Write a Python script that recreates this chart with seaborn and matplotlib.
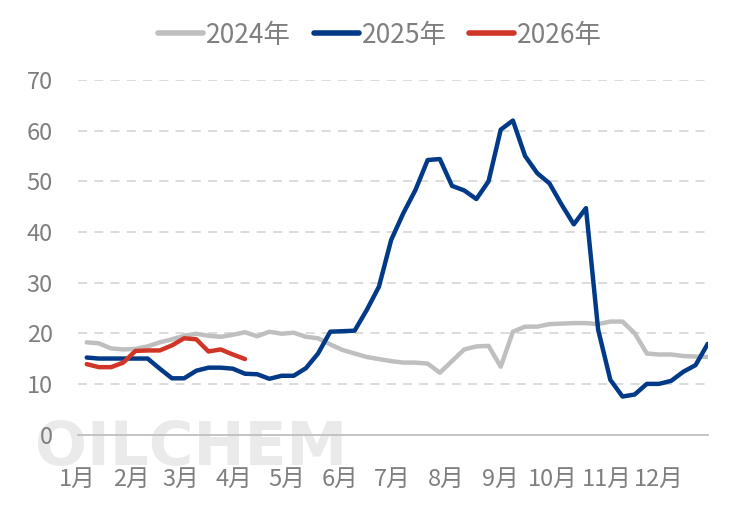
import numpy as np
import pandas as pd
import matplotlib
matplotlib.use("Agg")
import matplotlib.pyplot as plt
import seaborn as sns

# ---- data (weekly values) ----
v2024 = [18.2, 18.0, 17.0, 16.8, 16.9, 17.4, 18.2, 18.8, 19.5, 19.9,
         19.5, 19.3, 19.7, 20.2, 19.4, 20.3, 19.9, 20.1, 19.3, 19.0,
         17.8, 16.7, 16.0, 15.3, 14.9, 14.5, 14.2, 14.2, 14.0, 12.2,
         14.5, 16.8, 17.4, 17.5, 13.4, 20.3, 21.3, 21.3, 21.8, 21.9,
         22.0, 22.0, 21.8, 22.3, 22.3, 20.0, 16.0, 15.8, 15.8, 15.5,
         15.4, 15.3]
v2025 = [15.2, 15.0, 15.0, 15.0, 15.0, 15.0, 13.0, 11.1, 11.1, 12.6,
         13.2, 13.2, 13.0, 12.0, 11.9, 11.0, 11.6, 11.6, 13.1, 16.0,
         20.3, 20.4, 20.5, 24.6, 29.2, 38.4, 43.7, 48.3, 54.2, 54.4,
         49.1, 48.2, 46.5, 50.0, 60.2, 62.0, 55.0, 51.6, 49.6, 45.4,
         41.5, 44.7, 20.7, 10.8, 7.5, 7.9, 10.0, 10.0, 10.6, 12.4,
         13.7, 17.9]
v2026 = [13.9, 13.3, 13.3, 14.2, 16.5, 16.6, 16.6, 17.6, 19.0, 18.8,
         16.4, 16.8, 15.8, 14.9]
series_names = ["2024年", "2025年", "2026年"]
month_labels = ["1月", "2月", "3月", "4月", "5月", "6月",
                "7月", "8月", "9月", "10月", "11月", "12月"]
month_start_days = [0, 31, 59, 90, 120, 151, 181, 212, 243, 273, 304, 334]
y_ticks = [0, 10, 20, 30, 40, 50, 60, 70]

colors = ["#BFBFBF", "#023A87", "#D13527"]
text_color = "#7F7F7F"

# ---- build long table: x = week index ----
frames = []
for name, vals in zip(series_names, [v2024, v2025, v2026]):
    frames.append(pd.DataFrame({"week": np.arange(len(vals)),
                                "value": vals, "year": name}))
df = pd.concat(frames, ignore_index=True)

sns.set_theme(style="white")
plt.rcParams["font.family"] = ["Noto Sans CJK SC", "DejaVu Sans"]

fig = plt.figure(figsize=(7.49, 5.21), dpi=100)
ax = fig.add_axes([0.1037, 0.166, 0.9449 - 0.1037, 0.8464 - 0.166])
ax.patch.set_alpha(0)

# watermark (drawn beneath the axes)
fig.text(0.255, 0.140, "OILCHEM", ha="center", va="center",
         fontsize=44, fontweight="bold", color="#E2E2E2", alpha=0.7,
         family="DejaVu Sans", zorder=-1)

sns.lineplot(data=df, x="week", y="value", hue="year",
             hue_order=series_names, palette=colors, linewidth=3.2,
             ax=ax, legend=True, zorder=3)

# axes styling
day_offset = 5.2
px_week = 7.0
ax.set_xlim((0 - day_offset) / px_week, 51.0)
ax.set_ylim(0, 70)
ax.set_yticks(y_ticks)
ax.set_xticks([(d - day_offset) / px_week for d in month_start_days])
ax.set_xticklabels(month_labels)
ax.set_xlabel("")
ax.set_ylabel("")

for y in y_ticks[1:]:
    ax.axhline(y, color="#D9D9D9", linewidth=1.3, linestyle=(0, (5, 4)),
               zorder=1)

for s in ["top", "right", "left"]:
    ax.spines[s].set_visible(False)
ax.spines["bottom"].set_color("#BFBFBF")
ax.spines["bottom"].set_linewidth(1.3)
ax.spines["bottom"].set_zorder(2)

ax.tick_params(axis="y", length=0, pad=18, labelsize=17, labelcolor=text_color)
ax.tick_params(axis="x", direction="in", length=6, width=1.3,
               color="#BFBFBF", pad=24, labelsize=17, labelcolor=text_color)

leg = ax.legend(loc="center", bbox_to_anchor=(0.48, 1.127), ncol=3,
                frameon=False, fontsize=19, handlelength=1.7,
                handletextpad=0.12, columnspacing=0.85, labelcolor=text_color)
for line in leg.get_lines():
    line.set_linewidth(4)
    line.set_solid_capstyle("round")

fig.savefig("out.png", dpi=100)
